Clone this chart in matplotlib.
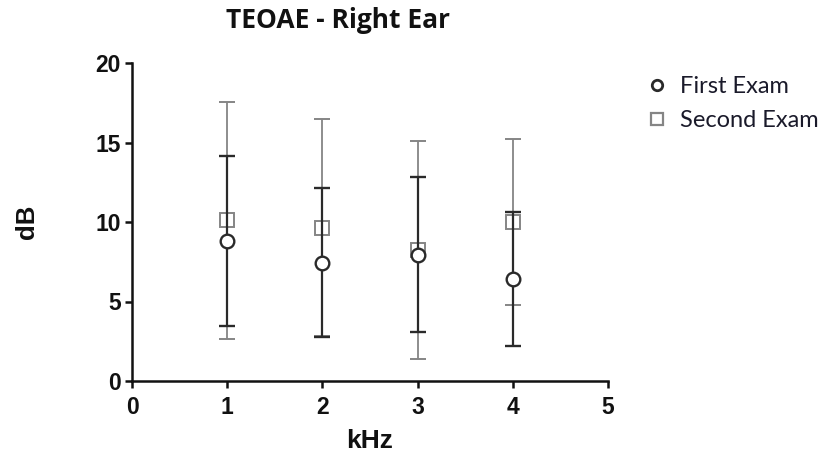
import matplotlib

matplotlib.use("Agg")
import matplotlib.pyplot as plt
from matplotlib.lines import Line2D

# Mean +/- SD per frequency
FREQS = [1, 2, 3, 4]
FIRST_MEAN = [8.8, 7.45, 7.95, 6.4]
FIRST_ERR = [5.35, 4.7, 4.85, 4.2]
SECOND_MEAN = [10.1, 9.65, 8.25, 10.0]
SECOND_ERR = [7.45, 6.8, 6.85, 5.25]

X_TICKS = [0, 1, 2, 3, 4, 5]
Y_TICKS = [0, 5, 10, 15, 20]

FIRST_COLOR = "#2a2a2a"
SECOND_COLOR = "#858585"
W, H = 822, 458

fig = plt.figure(figsize=(W / 100, H / 100), dpi=100)
ax = fig.add_axes([132 / W, 1 - 381 / H, 476 / W, 318 / H])

ax.errorbar(
    FREQS,
    SECOND_MEAN,
    yerr=SECOND_ERR,
    fmt="s",
    color=SECOND_COLOR,
    mfc="white",
    mec=SECOND_COLOR,
    markersize=10,
    mew=1.4,
    ecolor=SECOND_COLOR,
    elinewidth=1.3,
    capsize=5.5,
    capthick=1.3,
    zorder=2,
)
ax.errorbar(
    FREQS,
    FIRST_MEAN,
    yerr=FIRST_ERR,
    fmt="o",
    color=FIRST_COLOR,
    mfc="white",
    mec=FIRST_COLOR,
    markersize=9.8,
    mew=1.7,
    ecolor=FIRST_COLOR,
    elinewidth=1.6,
    capsize=5.5,
    capthick=1.6,
    zorder=3,
)

ax.set_xlim(0, 5)
ax.set_ylim(0, 20)
ax.set_xticks(X_TICKS)
ax.set_yticks(Y_TICKS)
for sp in ("top", "right"):
    ax.spines[sp].set_visible(False)
for sp in ("left", "bottom"):
    ax.spines[sp].set_linewidth(1.8)
    ax.spines[sp].set_color("#111111")
ax.tick_params(width=1.8, length=5, direction="out", color="#111111")
ax.tick_params(axis="x", pad=6)
ax.tick_params(axis="y", pad=3)
for lab in ax.get_xticklabels() + ax.get_yticklabels():
    lab.set_fontfamily("Liberation Sans")
    lab.set_fontweight("bold")
    lab.set_fontsize(16.5)
    lab.set_color("#111111")

ax.set_xlabel("kHz", fontsize=19, fontweight="bold", family="Liberation Sans",
              va="center", ha="center", color="#111111")
ax.xaxis.set_label_coords(0.5, (381 - 441) / 318)
ax.set_ylabel("dB", fontsize=18.5, fontweight="bold", family="Liberation Sans",
              va="center", ha="center", color="#111111")
ax.yaxis.set_label_coords((27 - 132) / 476, 0.5)

fig.text(338 / W, 1 - 28 / H, "TEOAE - Right Ear", ha="center", va="baseline",
         fontsize=19, fontweight="bold", family="Open Sans", color="#111111")

handles = [
    Line2D([], [], ls="none", marker="o", ms=7.5, mfc="white", mec=FIRST_COLOR, mew=2.0),
    Line2D([], [], ls="none", marker="s", ms=9, mfc="white", mec=SECOND_COLOR, mew=1.6),
]
fig.legend(
    handles,
    ["First Exam", "Second Exam"],
    loc="upper left",
    bbox_to_anchor=(645 / W, 1 - 76 / H),
    frameon=False,
    prop={"family": "Lato", "size": 17},
    labelcolor="#1a1a2a",
    borderpad=0,
    borderaxespad=0,
    handletextpad=0.48,
    labelspacing=0.55,
    handlelength=1.0,
)

fig.savefig("out.png", dpi=100)
